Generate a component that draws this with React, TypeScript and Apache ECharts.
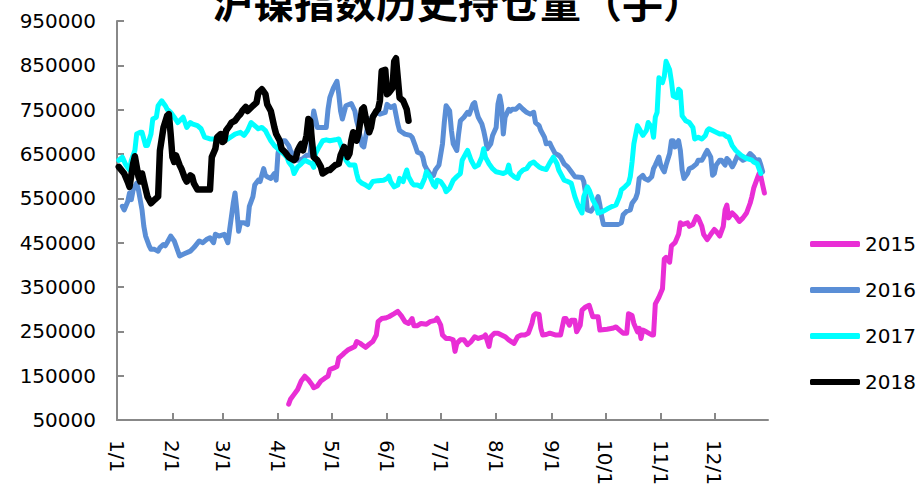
import React, { useEffect, useRef } from "react";
import * as echarts from "echarts";

const monthLengths = [31, 28, 31, 30, 31, 30, 31, 31, 30, 31, 30, 31];
const dayLabels: string[] = [];
monthLengths.forEach((len, i) => {
  for (let d = 1; d <= len; d++) dayLabels.push(`${i + 1}/${d}`);
});

const titleText = "沪镍指数历史持仓量（手）";
const seriesNames = ["2015", "2016", "2017", "2018"];
const seriesColors = ["#E92ED5", "#5A8ED6", "#00FFFF", "#000000"];

// [day-of-year index, open interest]
const data2015: [number, number][] = [
  [96,86000],[97,97000],[99,108000],[101,119000],[103,138000],[105,149000],[107,141000],[109,130000],[110,123000],[112,127000],[114,138000],[116,144000],[118,149000],[119,164000],[121,167000],[123,171000],[124,190000],[126,197000],[127,201000],[129,208000],[131,212000],[133,216000],[134,227000],[136,223000],[137,220000],[139,214000],[141,221000],[143,227000],[145,242000],[146,272000],[148,279000],[150,280000],[152,283000],[155,290000],[157,295000],[159,285000],[161,272000],[163,268000],[165,279000],[166,263000],[168,263000],[170,268000],[173,266000],[175,272000],[178,275000],[179,280000],[181,264000],[182,242000],[184,234000],[186,234000],[188,231000],[189,205000],[190,223000],[192,231000],[194,231000],[196,220000],[198,227000],[200,238000],[202,234000],[205,238000],[206,242000],[208,216000],[209,238000],[211,246000],[213,246000],[215,242000],[217,238000],[219,231000],[222,223000],[224,238000],[226,242000],[228,242000],[230,246000],[231,257000],[232,268000],[233,286000],[234,290000],[236,288000],[237,257000],[238,242000],[240,243000],[242,246000],[245,242000],[248,242000],[250,279000],[251,279000],[253,264000],[254,275000],[256,275000],[257,249000],[259,264000],[260,298000],[262,305000],[264,309000],[266,283000],[269,283000],[270,253000],[274,255000],[277,257000],[279,260000],[281,253000],[283,246000],[285,246000],[286,290000],[288,286000],[289,268000],[291,249000],[292,257000],[293,234000],[294,253000],[296,249000],[299,242000],[300,242000],[301,312000],[303,327000],[305,346000],[306,413000],[307,417000],[309,406000],[310,443000],[312,450000],[314,469000],[315,495000],[316,491000],[319,495000],[320,487000],[322,491000],[324,509000],[325,506000],[327,487000],[328,469000],[330,457000],[332,469000],[334,480000],[335,476000],[337,465000],[339,487000],[340,524000],[341,535000],[342,506000],[344,517000],[346,509000],[348,498000],[350,506000],[352,517000],[354,539000],[355,554000],[356,573000],[358,595000],[359,606000],[360,599000],[361,580000],[362,562000]
];

const data2016: [number, number][] = [
  [3,532000],[4,524000],[6,543000],[7,562000],[8,547000],[9,569000],[11,584000],[12,569000],[14,524000],[15,487000],[16,465000],[18,443000],[19,435000],[21,435000],[23,431000],[24,439000],[26,446000],[27,443000],[28,450000],[30,465000],[32,454000],[33,443000],[35,420000],[37,424000],[41,431000],[43,439000],[46,454000],[48,450000],[50,457000],[52,461000],[54,450000],[55,469000],[57,465000],[60,469000],[62,450000],[63,480000],[65,539000],[66,562000],[67,524000],[68,476000],[69,495000],[71,495000],[73,491000],[74,532000],[76,554000],[77,580000],[79,591000],[80,588000],[82,617000],[83,602000],[84,599000],[86,595000],[88,606000],[89,591000],[90,651000],[91,673000],[93,680000],[94,680000],[96,669000],[97,658000],[98,651000],[100,636000],[102,636000],[104,640000],[106,647000],[108,647000],[109,714000],[110,747000],[112,710000],[113,710000],[117,710000],[118,751000],[119,777000],[121,799000],[123,814000],[124,785000],[125,747000],[126,729000],[128,759000],[131,764000],[133,747000],[134,725000],[135,710000],[137,669000],[138,666000],[140,710000],[143,736000],[145,744000],[147,740000],[150,744000],[151,762000],[153,755000],[155,759000],[157,718000],[158,703000],[161,695000],[164,692000],[165,688000],[167,666000],[168,654000],[170,651000],[171,643000],[172,625000],[173,617000],[175,605000],[177,602000],[178,614000],[180,625000],[182,673000],[183,721000],[184,759000],[186,747000],[187,703000],[188,673000],[190,658000],[191,695000],[192,725000],[194,733000],[196,744000],[197,740000],[199,762000],[200,766000],[201,747000],[202,733000],[204,718000],[205,703000],[206,684000],[207,662000],[209,673000],[210,692000],[212,710000],[213,762000],[214,781000],[215,759000],[216,695000],[217,733000],[219,751000],[220,747000],[221,751000],[223,751000],[225,759000],[227,751000],[229,744000],[231,740000],[233,744000],[234,721000],[236,714000],[237,703000],[239,688000],[240,673000],[242,675000],[243,666000],[245,651000],[247,647000],[248,643000],[250,628000],[252,621000],[254,610000],[256,599000],[260,597000],[261,588000],[262,562000],[263,524000],[265,521000],[267,532000],[269,554000],[270,535000],[271,509000],[272,491000],[280,491000],[282,495000],[283,513000],[285,521000],[287,524000],[288,539000],[290,550000],[291,562000],[292,595000],[294,602000],[295,595000],[297,591000],[299,599000],[300,617000],[301,625000],[303,643000],[304,625000],[305,617000],[306,610000],[307,625000],[309,651000],[310,680000],[311,680000],[312,666000],[314,680000],[315,658000],[316,614000],[317,595000],[319,606000],[320,617000],[322,621000],[324,628000],[325,636000],[327,636000],[328,643000],[329,651000],[330,658000],[332,643000],[333,602000],[334,606000],[335,625000],[337,636000],[338,636000],[340,625000],[341,640000],[342,636000],[344,621000],[345,628000],[347,647000],[348,643000],[350,636000],[352,640000],[354,651000],[356,643000],[357,636000],[359,637000],[360,625000],[361,610000]
];

const data2017: [number, number][] = [
  [1,636000],[3,643000],[5,625000],[7,614000],[8,636000],[10,658000],[11,695000],[13,699000],[14,699000],[16,669000],[17,669000],[19,695000],[20,729000],[22,733000],[23,759000],[25,770000],[27,759000],[28,751000],[30,744000],[32,733000],[34,721000],[36,729000],[37,733000],[39,710000],[41,721000],[42,718000],[45,714000],[47,707000],[49,688000],[52,684000],[55,684000],[58,680000],[62,684000],[66,695000],[69,699000],[71,692000],[73,703000],[75,721000],[77,714000],[79,707000],[81,710000],[83,703000],[84,695000],[86,680000],[88,669000],[91,658000],[93,651000],[95,643000],[96,632000],[98,621000],[99,606000],[101,621000],[103,628000],[105,636000],[107,632000],[109,628000],[110,620000],[111,651000],[113,666000],[115,680000],[117,682000],[119,680000],[122,682000],[124,684000],[125,673000],[128,636000],[130,625000],[133,625000],[134,606000],[135,591000],[137,584000],[139,580000],[141,575000],[143,588000],[146,590000],[149,591000],[151,595000],[152,600000],[153,588000],[155,576000],[157,580000],[158,595000],[160,588000],[161,602000],[162,614000],[163,599000],[165,584000],[166,580000],[168,580000],[170,576000],[172,595000],[173,610000],[175,599000],[177,580000],[178,576000],[179,591000],[181,588000],[183,576000],[184,565000],[186,573000],[188,591000],[190,599000],[192,606000],[193,636000],[195,651000],[196,658000],[198,636000],[200,621000],[202,625000],[204,643000],[205,662000],[206,643000],[208,628000],[210,617000],[212,610000],[214,608000],[216,606000],[218,610000],[219,625000],[220,606000],[222,599000],[224,595000],[225,606000],[227,614000],[229,617000],[231,628000],[233,632000],[234,628000],[236,621000],[238,617000],[240,615000],[242,630000],[244,643000],[246,628000],[247,614000],[250,591000],[252,588000],[254,584000],[256,554000],[258,532000],[260,517000],[261,554000],[263,576000],[264,569000],[266,547000],[268,532000],[269,517000],[272,521000],[274,526000],[277,532000],[279,535000],[281,554000],[282,569000],[284,576000],[286,584000],[287,599000],[288,632000],[289,673000],[291,714000],[292,707000],[294,692000],[296,703000],[297,721000],[299,710000],[300,688000],[301,733000],[302,744000],[303,822000],[305,811000],[306,825000],[307,859000],[309,840000],[310,814000],[311,781000],[313,777000],[314,796000],[315,792000],[316,736000],[318,725000],[320,721000],[322,710000],[323,684000],[325,688000],[327,684000],[329,692000],[330,703000],[331,707000],[333,703000],[335,699000],[337,695000],[339,695000],[341,689000],[342,689000],[344,669000],[346,658000],[349,647000],[352,640000],[355,636000],[356,632000],[358,628000],[360,606000]
];

const data2018: [number, number][] = [
  [1,621000],[4,606000],[6,587000],[7,576000],[9,628000],[10,645000],[12,599000],[13,588000],[14,606000],[15,588000],[17,554000],[19,539000],[21,547000],[23,554000],[24,658000],[26,710000],[28,736000],[29,740000],[30,695000],[31,643000],[32,632000],[33,647000],[35,625000],[36,617000],[38,595000],[39,588000],[41,602000],[42,599000],[43,584000],[45,570000],[52,570000],[53,643000],[55,662000],[56,688000],[58,695000],[59,677000],[60,680000],[61,703000],[63,714000],[64,721000],[66,725000],[68,736000],[69,740000],[70,747000],[72,756000],[73,747000],[74,751000],[76,759000],[78,766000],[79,788000],[81,796000],[83,785000],[84,762000],[86,747000],[88,710000],[89,695000],[91,680000],[92,662000],[94,654000],[96,643000],[99,636000],[100,640000],[101,658000],[102,666000],[103,673000],[104,658000],[106,692000],[107,729000],[108,725000],[109,680000],[110,643000],[112,636000],[114,621000],[115,606000],[118,614000],[119,614000],[122,625000],[124,628000],[125,647000],[127,666000],[128,658000],[129,643000],[130,651000],[131,680000],[132,699000],[134,680000],[135,695000],[137,751000],[138,755000],[139,733000],[140,714000],[141,699000],[142,710000],[143,733000],[145,747000],[146,751000],[147,770000],[148,837000],[150,840000],[151,785000],[152,788000],[154,799000],[155,859000],[156,866000],[157,822000],[158,777000],[160,770000],[162,751000],[163,725000]
];

const allData = [data2015, data2016, data2017, data2018];
const lineWidths = [5, 5, 5, 6.5];

const FONT = "DejaVu Sans";

export default function App() {
  const ref = useRef<HTMLDivElement>(null);
  useEffect(() => {
    if (!ref.current) return;
    const chart = echarts.init(ref.current, undefined, { renderer: "svg" });
    const isMonthStart = (_i: number, v: string) => v.split("/")[1] === "1";
    chart.setOption({
      animation: false,
      backgroundColor: "#ffffff",
      graphic: [
        {
          type: "text",
          x: 458,
          y: 0,
          style: {
            text: titleText,
            font: `bold 41px "Noto Sans CJK SC"`,
            fill: "#000",
            textAlign: "center",
            textVerticalAlign: "middle",
          },
        },
      ],
      legend: {
        data: seriesNames,
        orient: "vertical",
        left: 805,
        top: 229,
        itemWidth: 50,
        itemHeight: 6,
        itemGap: 26,
        icon: "roundRect",
        textStyle: { fontFamily: FONT, fontSize: 20, color: "#000" },
      },
      grid: { left: 117, right: 156, top: 21, bottom: 65 },
      xAxis: {
        type: "category",
        data: dayLabels,
        boundaryGap: false,
        axisLine: { lineStyle: { color: "#888", width: 2 } },
        axisTick: { inside: true, length: 7, interval: isMonthStart, lineStyle: { color: "#888", width: 2 } },
        axisLabel: {
          interval: isMonthStart,
          rotate: -90,
          margin: 20,
          fontFamily: FONT,
          fontSize: 20,
          color: "#000",
        },
        splitLine: { show: false },
      },
      yAxis: {
        type: "value",
        min: 50000,
        max: 950000,
        interval: 100000,
        axisLine: { show: true, lineStyle: { color: "#888", width: 2 } },
        axisTick: { show: true, inside: true, length: 7, lineStyle: { color: "#888", width: 2 } },
        axisLabel: {
          margin: 21,
          fontFamily: FONT,
          fontSize: 20,
          color: "#000",
          formatter: (v: number) => String(v),
        },
        splitLine: { show: false },
      },
      series: seriesNames.map((name, i) => ({
        name,
        type: "line",
        data: allData[i],
        showSymbol: false,
        symbol: "none",
        color: seriesColors[i],
        lineStyle: { width: lineWidths[i], color: seriesColors[i], cap: "round", join: "round" },
        z: 2 + i,
      })),
    });
    return () => chart.dispose();
  }, []);
  return (
    <div
      ref={ref}
      style={{ position: "fixed", left: 0, top: 0, width: 924, height: 488 }}
    />
  );
}
